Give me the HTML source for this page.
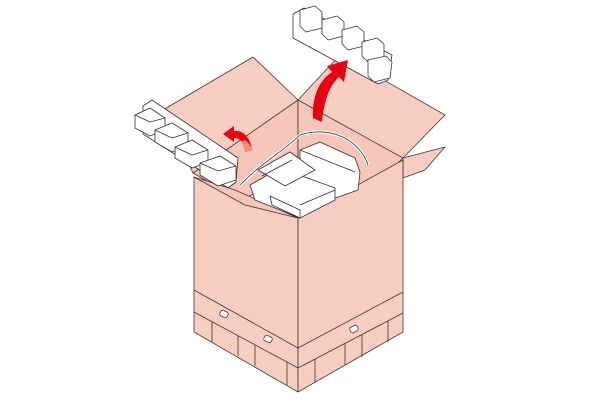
<!DOCTYPE html>
<html><head><style>html,body{margin:0;padding:0;background:#fff}svg{display:block}</style></head>
<body>
<svg width="600" height="400" viewBox="0 0 600 400" xmlns="http://www.w3.org/2000/svg">
<g stroke="#4a3330" stroke-width="0.8" stroke-linejoin="round" fill="#f8cdc2">
<polygon points="163,110 253,57 298,100 298,170 193,173"/>
<polygon points="298,100 340,55 445,115 403,158 298,170"/>
<polygon points="193,173 298,100 298,175 240,200" fill="#f6c6ba"/>
<polygon points="298,100 403,158 360,200 298,175" fill="#f6c6ba"/>
<polygon points="403,158 445,147 425,170 403,178"/>
<polygon points="194,177 298,218 298,392 194,332"/>
<polygon points="298,218 403,160 403,332 298,392"/>
<polygon points="194,177 235,190 298,218 245,205" fill="#f6c6ba"/>
<polyline points="194,290 298,348 403,292" fill="none"/>
<polyline points="194,312 298,368 403,313" fill="none"/>
<g fill="none">
<line x1="212" y1="322" x2="212" y2="342"/><line x1="238" y1="336" x2="238" y2="356"/>
<line x1="255" y1="345" x2="255" y2="366"/><line x1="287" y1="362" x2="287" y2="385"/>
<line x1="315" y1="359" x2="315" y2="382"/><line x1="345" y1="343" x2="345" y2="365"/>
<line x1="362" y1="335" x2="362" y2="357"/><line x1="388" y1="321" x2="388" y2="342"/>
</g>
<g fill="#fff">
<rect x="220" y="311" width="8" height="6" rx="2" transform="rotate(25 224 314)"/>
<rect x="264" y="336" width="8" height="6" rx="2" transform="rotate(25 268 339)"/>
<rect x="350" y="326" width="8" height="6" rx="2" transform="rotate(-28 354 329)"/>
</g>
</g>
<!-- printer -->
<g stroke="#333" stroke-width="0.8" fill="#fff" stroke-linejoin="round">
<path d="M240,185 C265,160 285,150 300,135 C330,125 360,140 368,165" fill="none" stroke="#fff" stroke-width="3"/>
<path d="M240,185 C265,160 285,150 300,135 C330,125 360,140 368,165" fill="none"/>
<polygon points="300,150 320,142 355,158 360,172 358,190 330,200 300,180"/>
<polygon points="250,185 280,168 335,188 335,200 300,218 255,200"/>
<polygon points="258,170 290,152 315,170 285,186"/>
<polygon points="270,196 300,210 300,218 272,205"/>
<line x1="300" y1="205" x2="335" y2="190"/>
<line x1="262" y1="176" x2="292" y2="160"/>
<line x1="300" y1="150" x2="355" y2="172"/>
</g>
<!-- left styrofoam -->
<g stroke="#333" stroke-width="0.8" fill="#fff" stroke-linejoin="round">
<polygon points="143,106 152,100 238,158 236,182 228,188 143,134"/>
<polygon points="135,115 150,108 165,118 165,130 150,136 135,128"/>
<polygon points="155,130 172,123 188,133 188,145 172,152 155,142"/>
<polygon points="175,147 192,140 208,150 208,162 192,168 175,158"/>
<polygon points="200,163 220,156 236,166 236,180 218,186 200,175"/>
<polyline points="135,115 150,122 165,118" fill="none"/>
<polyline points="155,130 172,138 188,133" fill="none"/>
<polyline points="175,147 192,155 208,150" fill="none"/>
<polyline points="200,163 218,171 236,166" fill="none"/>
</g>
<!-- top right styrofoam -->
<g stroke="#333" stroke-width="0.8" fill="#fff" stroke-linejoin="round">
<polygon points="293,14 304,8 392,55 388,80 378,84 293,38"/>
<polygon points="300,10 315,6 322,12 322,28 306,32 300,26"/>
<polygon points="322,20 337,16 344,22 344,36 328,40 322,34"/>
<polygon points="342,30 357,26 364,32 364,46 348,50 342,44"/>
<polygon points="362,42 377,38 384,44 384,58 368,62 362,56"/>
<polygon points="368,60 386,56 392,62 390,78 374,82 368,76"/>
</g>
<!-- arrows -->
<path d="M313,118 C312,95 320,80 332,72 L327,66 L348,60 L344,82 L339,77 C330,85 324,100 322,122 Z" fill="#e60012"/>
<path d="M223,134 L234,126 L234,131 C242,130 250,136 252,150 L245,152 C244,142 240,138 234,138 L234,142 Z" fill="#e60012"/>
<path d="M245,140 C249,143 251,146 252,150 L245,152 C244,148 243,145 241,142 Z" fill="#f39070"/>
</svg>
</body></html>
